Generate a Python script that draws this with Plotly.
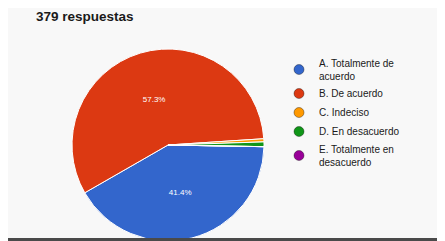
import plotly.graph_objects as go

categories = ["A. Totalmente de<br>acuerdo", "B. De acuerdo", "C. Indeciso",
              "D. En desacuerdo", "E. Totalmente en<br>desacuerdo"]
counts = [157, 217, 2, 3, 0]
colors = ["#3366cc", "#dc3912", "#ff9900", "#109618", "#990099"]
title_text = "379 respuestas"

W, H = 445, 241
OFF = 8  # browser body margin shifts the figure by 8px


def px(x):
    return (x - OFF) / W


def py(y):
    return 1 - (y - OFF) / H


total = sum(counts)
texts = [f"{c/total*100:.1f}%" if c / total > 0.05 else "" for c in counts]

cx, cy, r = 168, 145, 96
fig = go.Figure()
fig.add_trace(go.Pie(
    labels=categories, values=counts, sort=False, direction="clockwise",
    rotation=91, marker=dict(colors=colors, line=dict(color="white", width=1)),
    text=texts, textinfo="text", textposition="inside",
    insidetextfont=dict(color="white", size=8, family="Arial"),
    showlegend=False, hoverinfo="label+percent",
    domain=dict(x=[px(cx - r), px(cx + r)], y=[py(cy + r), py(cy - r)]),
))
for lab, col in zip(categories, colors):
    fig.add_trace(go.Scatter(
        x=[None], y=[None], mode="markers", name=lab,
        marker=dict(symbol="circle", size=10, color=col,
                    line=dict(color="rgba(0,0,0,0.35)", width=1)),
    ))

fig.update_layout(
    width=W, height=H,
    margin=dict(l=0, r=0, t=0, b=0),
    paper_bgcolor="#f8f8f8", plot_bgcolor="#f8f8f8",
    xaxis=dict(visible=False), yaxis=dict(visible=False),
    title=dict(text=f"<b>{title_text}</b>", x=px(36), xanchor="left",
               y=py(16), yanchor="middle",
               font=dict(size=13.5, color="#1a1a1a", family="Arial")),
    legend=dict(x=px(279), y=py(50), xanchor="left", yanchor="top",
                font=dict(size=10, color="#1a1a1a", family="Arial"),
                itemwidth=30, tracegroupgap=0, bgcolor="rgba(0,0,0,0)"),
    shapes=[dict(type="rect", xref="paper", yref="paper", x0=0, x1=1,
                 y0=py(241), y1=py(238), fillcolor="#4a4a4a", line_width=0)],
)
fig.write_html("out.html")
